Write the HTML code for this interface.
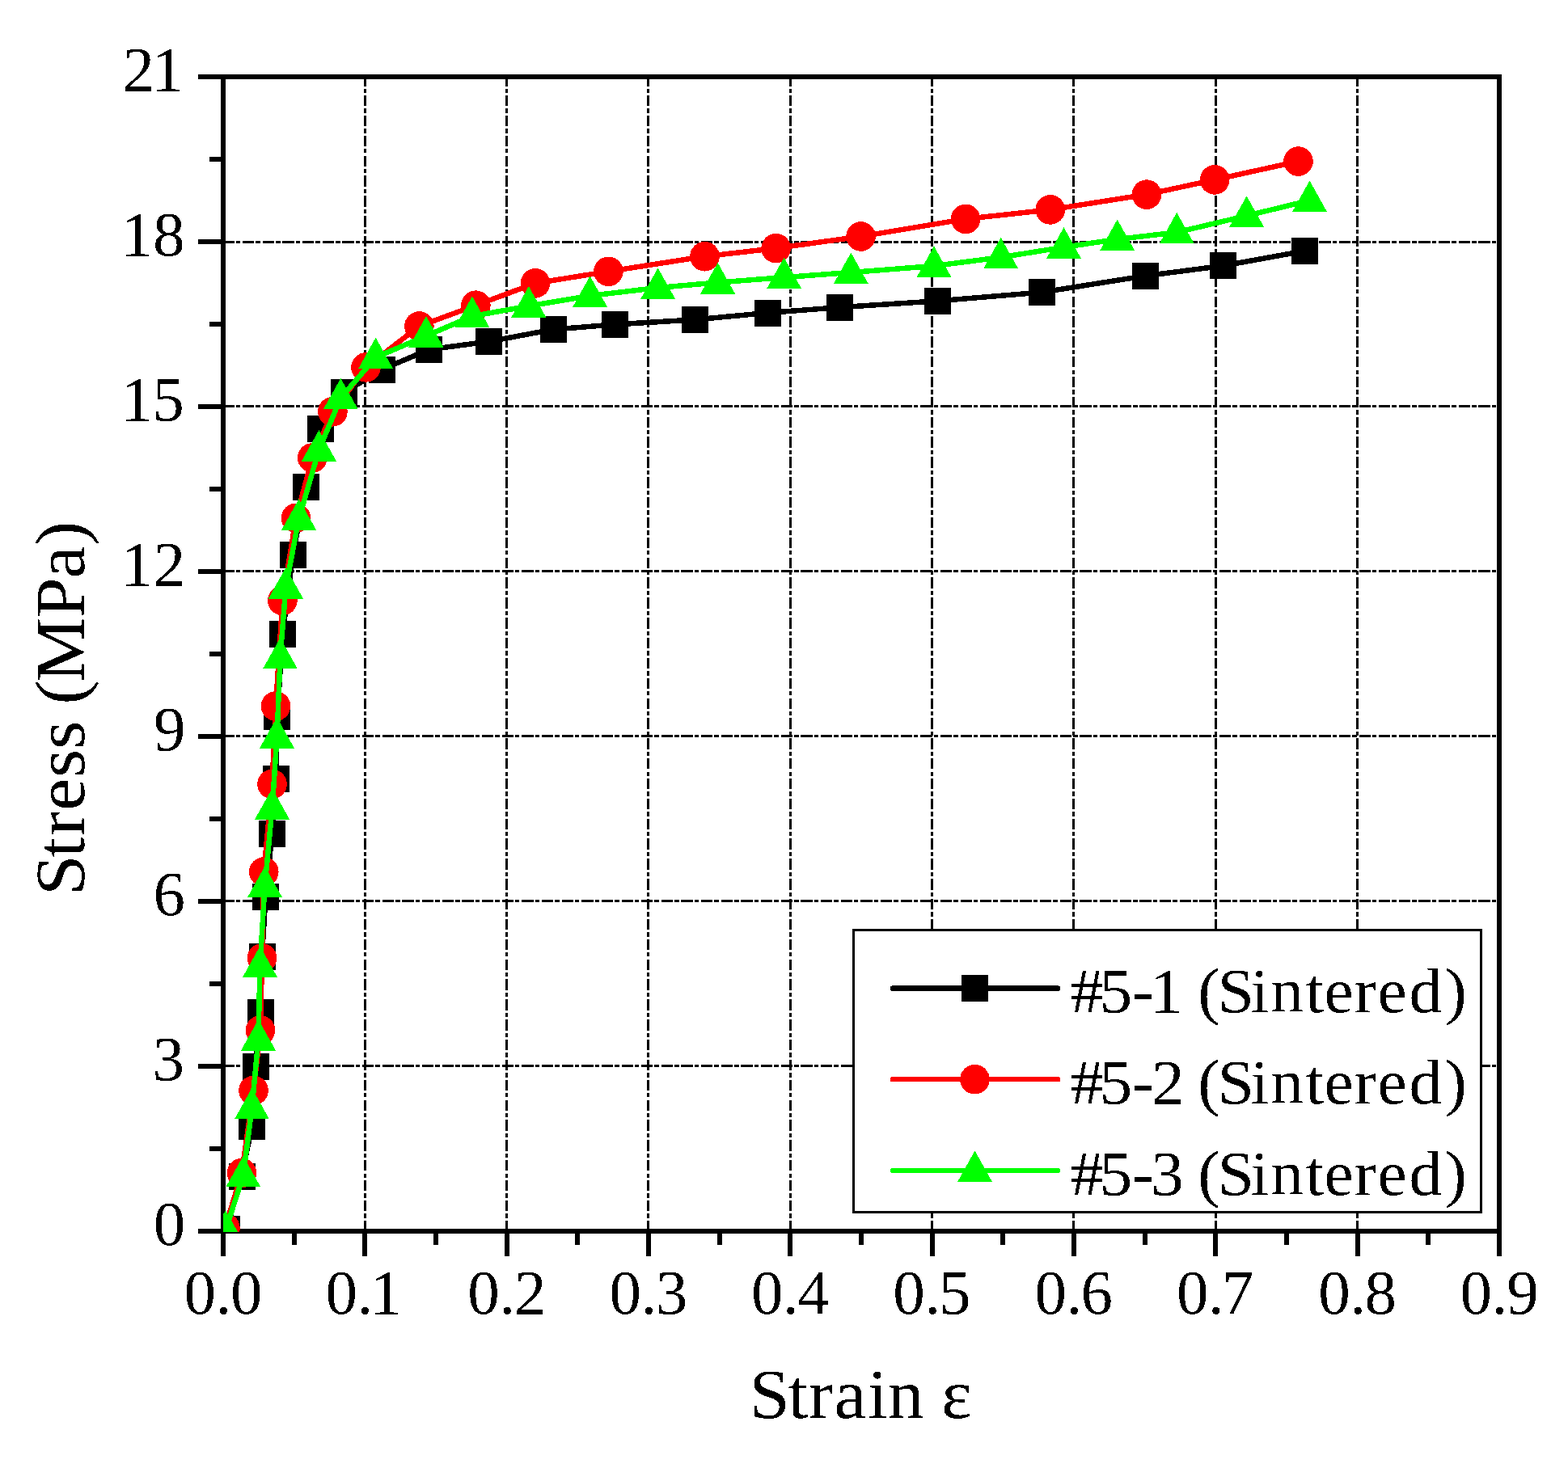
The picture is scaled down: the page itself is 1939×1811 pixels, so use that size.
<!DOCTYPE html><html><head><meta charset="utf-8"><title>Stress-strain curves</title><style>html,body{margin:0;padding:0;background:#fff;overflow:hidden}svg{display:block}text{font-family:"Liberation Serif","DejaVu Serif",serif;fill:#000}</style></head><body>
<svg width="1939" height="1811" viewBox="0 0 1939 1811">
<rect width="1939" height="1811" fill="#fff"/><g shape-rendering="crispEdges">
<defs><filter id="bin" filterUnits="userSpaceOnUse" x="0" y="0" width="1939" height="1811" color-interpolation-filters="sRGB"><feComponentTransfer><feFuncA type="discrete" tableValues="0 1"/></feComponentTransfer></filter></defs>
<defs><clipPath id="pc"><rect x="276.0" y="95.0" width="1578.0" height="1429.0"/></clipPath></defs>
<g stroke="#000" stroke-width="3" fill="none"><line x1="451.5" y1="1523.0" x2="451.5" y2="98.0" stroke-dasharray="13.4 3.1 5.3 3.05"/><line x1="626.5" y1="1523.0" x2="626.5" y2="98.0" stroke-dasharray="13.4 3.1 5.3 3.05"/><line x1="801.5" y1="1523.0" x2="801.5" y2="98.0" stroke-dasharray="13.4 3.1 5.3 3.05"/><line x1="977.5" y1="1523.0" x2="977.5" y2="98.0" stroke-dasharray="13.4 3.1 5.3 3.05"/><line x1="1152.5" y1="1523.0" x2="1152.5" y2="98.0" stroke-dasharray="13.4 3.1 5.3 3.05"/><line x1="1327.5" y1="1523.0" x2="1327.5" y2="98.0" stroke-dasharray="13.4 3.1 5.3 3.05"/><line x1="1503.5" y1="1523.0" x2="1503.5" y2="98.0" stroke-dasharray="13.4 3.1 5.3 3.05"/><line x1="1678.5" y1="1523.0" x2="1678.5" y2="98.0" stroke-dasharray="13.4 3.1 5.3 3.05"/><line x1="276.0" y1="1318.5" x2="1851.0" y2="1318.5" stroke-dasharray="14.3 2 5.55 2.8" stroke-dashoffset="0.5"/><line x1="276.0" y1="1114.5" x2="1851.0" y2="1114.5" stroke-dasharray="14.3 2 5.55 2.8" stroke-dashoffset="0.5"/><line x1="276.0" y1="910.5" x2="1851.0" y2="910.5" stroke-dasharray="14.3 2 5.55 2.8" stroke-dashoffset="0.5"/><line x1="276.0" y1="706.5" x2="1851.0" y2="706.5" stroke-dasharray="14.3 2 5.55 2.8" stroke-dashoffset="0.5"/><line x1="276.0" y1="502.5" x2="1851.0" y2="502.5" stroke-dasharray="14.3 2 5.55 2.8" stroke-dashoffset="0.5"/><line x1="276.0" y1="299.5" x2="1851.0" y2="299.5" stroke-dasharray="14.3 2 5.55 2.8" stroke-dashoffset="0.5"/></g>
<g stroke="#000" stroke-width="6" fill="none"><line x1="276" y1="1523.0" x2="276" y2="1553.5"/><line x1="451" y1="1523.0" x2="451" y2="1553.5"/><line x1="627" y1="1523.0" x2="627" y2="1553.5"/><line x1="802" y1="1523.0" x2="802" y2="1553.5"/><line x1="977" y1="1523.0" x2="977" y2="1553.5"/><line x1="1153" y1="1523.0" x2="1153" y2="1553.5"/><line x1="1328" y1="1523.0" x2="1328" y2="1553.5"/><line x1="1503" y1="1523.0" x2="1503" y2="1553.5"/><line x1="1679" y1="1523.0" x2="1679" y2="1553.5"/><line x1="1854" y1="1523.0" x2="1854" y2="1553.5"/><line x1="364" y1="1523.0" x2="364" y2="1539.5"/><line x1="539" y1="1523.0" x2="539" y2="1539.5"/><line x1="714" y1="1523.0" x2="714" y2="1539.5"/><line x1="890" y1="1523.0" x2="890" y2="1539.5"/><line x1="1065" y1="1523.0" x2="1065" y2="1539.5"/><line x1="1240" y1="1523.0" x2="1240" y2="1539.5"/><line x1="1416" y1="1523.0" x2="1416" y2="1539.5"/><line x1="1591" y1="1523.0" x2="1591" y2="1539.5"/><line x1="1766" y1="1523.0" x2="1766" y2="1539.5"/><line x1="245" y1="1523" x2="276.0" y2="1523"/><line x1="245" y1="1319" x2="276.0" y2="1319"/><line x1="245" y1="1115" x2="276.0" y2="1115"/><line x1="245" y1="911" x2="276.0" y2="911"/><line x1="245" y1="707" x2="276.0" y2="707"/><line x1="245" y1="503" x2="276.0" y2="503"/><line x1="245" y1="299" x2="276.0" y2="299"/><line x1="245" y1="95" x2="276.0" y2="95"/><line x1="259" y1="1421" x2="276.0" y2="1421"/><line x1="259" y1="1217" x2="276.0" y2="1217"/><line x1="259" y1="1013" x2="276.0" y2="1013"/><line x1="259" y1="809" x2="276.0" y2="809"/><line x1="259" y1="605" x2="276.0" y2="605"/><line x1="259" y1="401" x2="276.0" y2="401"/><line x1="259" y1="197" x2="276.0" y2="197"/></g>
<rect x="276.0" y="95.0" width="1578.0" height="1428.0" fill="none" stroke="#000" stroke-width="6"/>
<g clip-path="url(#pc)"><polyline points="280.4,1520.6 299.0,1455.2 311.5,1393.3 316.0,1319.5 322.0,1252.3 324.0,1183.4 328.5,1109.0 336.5,1031.2 341.0,963.3 342.9,886.5 349.5,784.3 362.2,686.0 378.5,602.4 396.5,530.3 425.5,485.5 472.5,457.0 530.5,432.4 604.4,422.5 684.5,407.5 760.5,401.4 859.5,395.4 949.5,387.0 1038.0,380.2 1159.5,372.3 1288.6,361.5 1416.0,341.3 1512.6,328.8 1613.5,310.4" fill="none" stroke="#000" stroke-width="6.5" stroke-linejoin="round"/><rect x="263.9" y="1504.1" width="33.0" height="33.0" fill="#000"/><rect x="282.5" y="1438.7" width="33.0" height="33.0" fill="#000"/><rect x="295.0" y="1376.8" width="33.0" height="33.0" fill="#000"/><rect x="299.5" y="1303.0" width="33.0" height="33.0" fill="#000"/><rect x="305.5" y="1235.8" width="33.0" height="33.0" fill="#000"/><rect x="307.5" y="1166.9" width="33.0" height="33.0" fill="#000"/><rect x="312.0" y="1092.5" width="33.0" height="33.0" fill="#000"/><rect x="320.0" y="1014.7" width="33.0" height="33.0" fill="#000"/><rect x="324.5" y="946.8" width="33.0" height="33.0" fill="#000"/><rect x="326.4" y="870.0" width="33.0" height="33.0" fill="#000"/><rect x="333.0" y="767.8" width="33.0" height="33.0" fill="#000"/><rect x="345.7" y="669.5" width="33.0" height="33.0" fill="#000"/><rect x="362.0" y="585.9" width="33.0" height="33.0" fill="#000"/><rect x="380.0" y="513.8" width="33.0" height="33.0" fill="#000"/><rect x="409.0" y="469.0" width="33.0" height="33.0" fill="#000"/><rect x="456.0" y="440.5" width="33.0" height="33.0" fill="#000"/><rect x="514.0" y="415.9" width="33.0" height="33.0" fill="#000"/><rect x="587.9" y="406.0" width="33.0" height="33.0" fill="#000"/><rect x="668.0" y="391.0" width="33.0" height="33.0" fill="#000"/><rect x="744.0" y="384.9" width="33.0" height="33.0" fill="#000"/><rect x="843.0" y="378.9" width="33.0" height="33.0" fill="#000"/><rect x="933.0" y="370.5" width="33.0" height="33.0" fill="#000"/><rect x="1021.5" y="363.7" width="33.0" height="33.0" fill="#000"/><rect x="1143.0" y="355.8" width="33.0" height="33.0" fill="#000"/><rect x="1272.1" y="345.0" width="33.0" height="33.0" fill="#000"/><rect x="1399.5" y="324.8" width="33.0" height="33.0" fill="#000"/><rect x="1496.1" y="312.3" width="33.0" height="33.0" fill="#000"/><rect x="1597.0" y="293.9" width="33.0" height="33.0" fill="#000"/><polyline points="278.4,1519.0 298.9,1451.0 313.5,1348.9 322.0,1274.5 324.0,1185.2 326.3,1078.5 336.5,970.0 341.0,873.5 349.4,743.0 366.0,640.8 386.3,566.4 411.4,509.3 452.5,454.4 518.4,403.5 588.4,377.7 662.0,350.4 752.4,335.8 871.5,317.2 959.6,307.1 1064.6,292.5 1194.1,270.9 1298.8,259.4 1418.0,240.6 1502.1,222.4 1605.5,199.6" fill="none" stroke="#f00" stroke-width="6.5" stroke-linejoin="round"/><circle cx="278.4" cy="1519.0" r="18.3" fill="#f00"/><circle cx="298.9" cy="1451.0" r="18.3" fill="#f00"/><circle cx="313.5" cy="1348.9" r="18.3" fill="#f00"/><circle cx="322.0" cy="1274.5" r="18.3" fill="#f00"/><circle cx="324.0" cy="1185.2" r="18.3" fill="#f00"/><circle cx="326.3" cy="1078.5" r="18.3" fill="#f00"/><circle cx="336.5" cy="970.0" r="18.3" fill="#f00"/><circle cx="341.0" cy="873.5" r="18.3" fill="#f00"/><circle cx="349.4" cy="743.0" r="18.3" fill="#f00"/><circle cx="366.0" cy="640.8" r="18.3" fill="#f00"/><circle cx="386.3" cy="566.4" r="18.3" fill="#f00"/><circle cx="411.4" cy="509.3" r="18.3" fill="#f00"/><circle cx="452.5" cy="454.4" r="18.3" fill="#f00"/><circle cx="518.4" cy="403.5" r="18.3" fill="#f00"/><circle cx="588.4" cy="377.7" r="18.3" fill="#f00"/><circle cx="662.0" cy="350.4" r="18.3" fill="#f00"/><circle cx="752.4" cy="335.8" r="18.3" fill="#f00"/><circle cx="871.5" cy="317.2" r="18.3" fill="#f00"/><circle cx="959.6" cy="307.1" r="18.3" fill="#f00"/><circle cx="1064.6" cy="292.5" r="18.3" fill="#f00"/><circle cx="1194.1" cy="270.9" r="18.3" fill="#f00"/><circle cx="1298.8" cy="259.4" r="18.3" fill="#f00"/><circle cx="1418.0" cy="240.6" r="18.3" fill="#f00"/><circle cx="1502.1" cy="222.4" r="18.3" fill="#f00"/><circle cx="1605.5" cy="199.6" r="18.3" fill="#f00"/><polyline points="279.0,1521.5 300.8,1454.3 311.5,1370.4 319.5,1285.5 321.5,1194.8 327.5,1096.0 336.6,999.6 342.5,911.7 346.5,813.4 353.4,726.5 369.6,641.7 394.4,556.5 421.3,492.3 464.6,442.1 527.0,415.5 583.9,391.1 653.8,378.6 729.6,365.9 813.6,355.9 887.6,349.5 969.6,343.1 1052.3,337.0 1155.0,329.0 1237.6,318.3 1315.5,305.8 1381.7,296.0 1455.2,287.4 1541.6,266.9 1619.5,248.0" fill="none" stroke="#0f0" stroke-width="6.5" stroke-linejoin="round"/><polygon points="279.0,1497.0 300.5,1535.5 257.5,1535.5" fill="#0f0"/><polygon points="300.8,1429.8 322.3,1468.3 279.3,1468.3" fill="#0f0"/><polygon points="311.5,1345.9 333.0,1384.4 290.0,1384.4" fill="#0f0"/><polygon points="319.5,1261.0 341.0,1299.5 298.0,1299.5" fill="#0f0"/><polygon points="321.5,1170.3 343.0,1208.8 300.0,1208.8" fill="#0f0"/><polygon points="327.5,1071.5 349.0,1110.0 306.0,1110.0" fill="#0f0"/><polygon points="336.6,975.1 358.1,1013.6 315.1,1013.6" fill="#0f0"/><polygon points="342.5,887.2 364.0,925.7 321.0,925.7" fill="#0f0"/><polygon points="346.5,788.9 368.0,827.4 325.0,827.4" fill="#0f0"/><polygon points="353.4,702.0 374.9,740.5 331.9,740.5" fill="#0f0"/><polygon points="369.6,617.2 391.1,655.7 348.1,655.7" fill="#0f0"/><polygon points="394.4,532.0 415.9,570.5 372.9,570.5" fill="#0f0"/><polygon points="421.3,467.8 442.8,506.3 399.8,506.3" fill="#0f0"/><polygon points="464.6,417.6 486.1,456.1 443.1,456.1" fill="#0f0"/><polygon points="527.0,391.0 548.5,429.5 505.5,429.5" fill="#0f0"/><polygon points="583.9,366.6 605.4,405.1 562.4,405.1" fill="#0f0"/><polygon points="653.8,354.1 675.3,392.6 632.3,392.6" fill="#0f0"/><polygon points="729.6,341.4 751.1,379.9 708.1,379.9" fill="#0f0"/><polygon points="813.6,331.4 835.1,369.9 792.1,369.9" fill="#0f0"/><polygon points="887.6,325.0 909.1,363.5 866.1,363.5" fill="#0f0"/><polygon points="969.6,318.6 991.1,357.1 948.1,357.1" fill="#0f0"/><polygon points="1052.3,312.5 1073.8,351.0 1030.8,351.0" fill="#0f0"/><polygon points="1155.0,304.5 1176.5,343.0 1133.5,343.0" fill="#0f0"/><polygon points="1237.6,293.8 1259.1,332.3 1216.1,332.3" fill="#0f0"/><polygon points="1315.5,281.3 1337.0,319.8 1294.0,319.8" fill="#0f0"/><polygon points="1381.7,271.5 1403.2,310.0 1360.2,310.0" fill="#0f0"/><polygon points="1455.2,262.9 1476.7,301.4 1433.7,301.4" fill="#0f0"/><polygon points="1541.6,242.4 1563.1,280.9 1520.1,280.9" fill="#0f0"/><polygon points="1619.5,223.5 1641.0,262.0 1598.0,262.0" fill="#0f0"/></g>
<rect x="1055.5" y="1150.5" width="776" height="349" fill="#fff" stroke="#000" stroke-width="3"/>
<line x1="1104" y1="1222.5" x2="1308" y2="1222.5" stroke="#000" stroke-width="6.5" stroke-linecap="round"/>
<rect x="1189.0" y="1206.0" width="33.0" height="33.0" fill="#000"/>
<line x1="1104" y1="1335.2" x2="1308" y2="1335.2" stroke="#f00" stroke-width="6.5" stroke-linecap="round"/>
<circle cx="1205.5" cy="1335.2" r="18.3" fill="#f00"/>
<line x1="1104" y1="1448" x2="1308" y2="1448" stroke="#0f0" stroke-width="6.5" stroke-linecap="round"/>
<polygon points="1205.5,1423.5 1227.0,1462.0 1184.0,1462.0" fill="#0f0"/>
</g>
<g filter="url(#bin)"><g transform="translate(1329.1,0) scale(1.03,1) translate(-1329.1,0)"><text x="1323.8 1358.6 1397.8 1419.3 1458.8 1476.8 1500.5 1540.3 1564.2 1606.2 1628.6 1664.6 1692.6 1730.5 1773.4" y="1252.1" font-size="79">#5-1 (Sintered)</text></g>
<g transform="translate(1329.1,0) scale(1.03,1) translate(-1329.1,0)"><text x="1323.8 1358.6 1397.8 1421.3 1460.8 1476.8 1500.5 1540.3 1564.2 1606.2 1628.6 1664.6 1692.6 1730.5 1773.4" y="1364.8" font-size="79">#5-2 (Sintered)</text></g>
<g transform="translate(1329.1,0) scale(1.03,1) translate(-1329.1,0)"><text x="1323.8 1358.6 1397.8 1420.3 1459.8 1476.8 1500.5 1540.3 1564.2 1606.2 1628.6 1664.6 1692.6 1730.5 1773.4" y="1477.6" font-size="79">#5-3 (Sintered)</text></g>
<text x="151.6 187.6" y="112.1" font-size="79">21</text>
<text x="149.4 189.1" y="316.1" font-size="79">18</text>
<text x="149.5 188.2" y="520.1" font-size="79">15</text>
<text x="149.5 189.8" y="724.1" font-size="79">12</text>
<text x="189.9" y="928.1" font-size="79">9</text>
<text x="189.5" y="1132.1" font-size="79">6</text>
<text x="188.6" y="1336.1" font-size="79">3</text>
<text x="189.8" y="1540.1" font-size="79">0</text>
<text x="227.6 266.6 285.0" y="1625.3" font-size="79">0.0</text>
<text x="402.4 441.5 457.4" y="1625.3" font-size="79">0.1</text>
<text x="578.2 617.2 636.0" y="1625.3" font-size="79">0.2</text>
<text x="753.6 792.6 810.7" y="1625.3" font-size="79">0.3</text>
<text x="928.9 967.9 986.1" y="1625.3" font-size="79">0.4</text>
<text x="1104.2 1143.2 1160.9" y="1625.3" font-size="79">0.5</text>
<text x="1279.6 1318.6 1336.5" y="1625.3" font-size="79">0.6</text>
<text x="1454.9 1493.9 1510.9" y="1625.3" font-size="79">0.7</text>
<text x="1630.2 1669.2 1687.6" y="1625.3" font-size="79">0.8</text>
<text x="1805.5 1844.6 1863.2" y="1625.3" font-size="79">0.9</text>
<g transform="translate(932.6,0) scale(1.05,1) translate(-932.6,0)"><text x="926.7 972.2 996.8 1026.8 1066.0 1089.7 1132.7 1153.0" y="1753.8" font-size="86">Strain ε</text></g>
<g transform="translate(103.7,0) rotate(-90)"><g transform="translate(-1100.5,0) scale(1.05,1) translate(1100.5,0)"><text x="-1107.3 -1062.6 -1036.9 -1007.5 -968.5 -935.1 -901.7 -882.3 -856.3 -780.4 -733.7 -694.9" y="0.0" font-size="86">Stress (MPa)</text></g></g></g>
</svg></body></html>
